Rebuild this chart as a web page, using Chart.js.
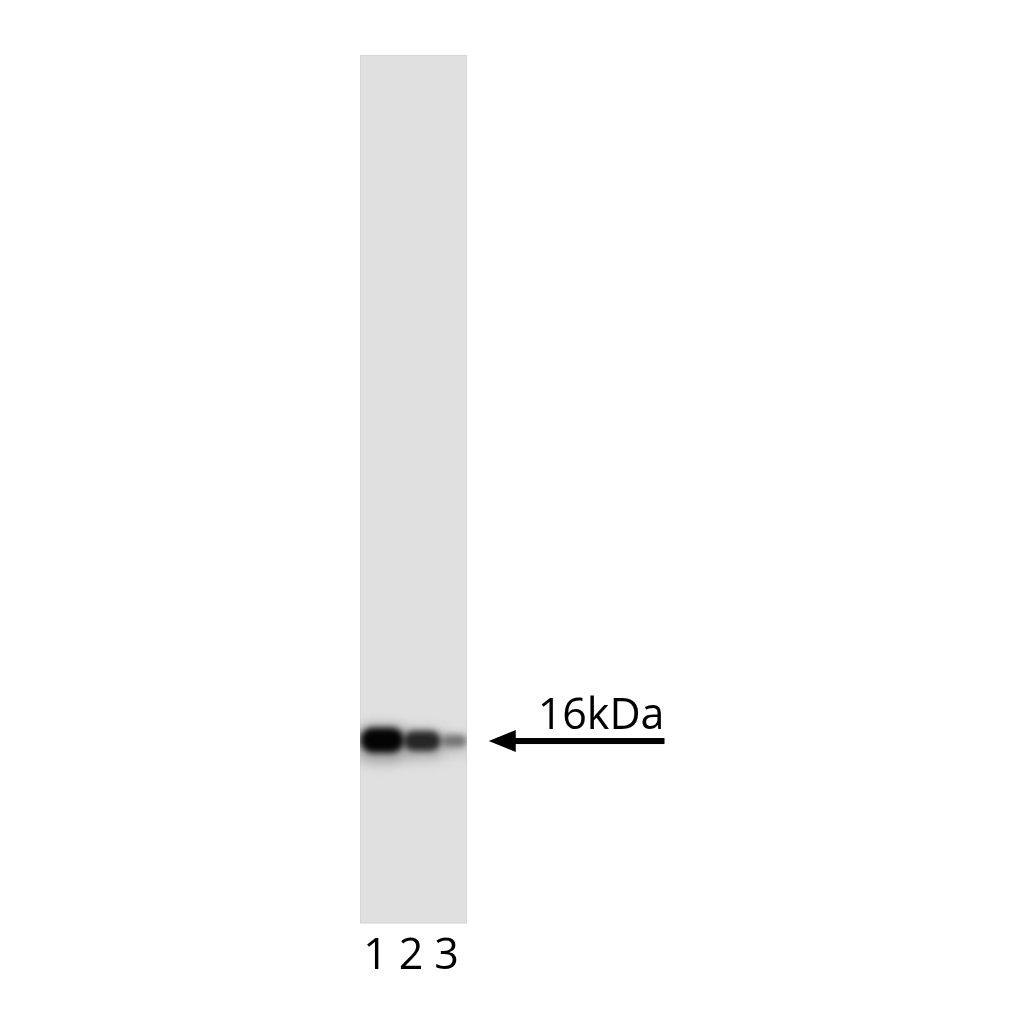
<!DOCTYPE html>
<html lang="en">
  <head>
    <meta charset="UTF-8" />
    <title>Western blot 16kDa</title>
    <style>
      body {
        margin: 0;
        background: #fff;
      }
      #blot {
        display: block;
      }
    </style>
  </head>
  <body>
    <canvas id="blot" width="1024" height="1024"></canvas>
    <script src="https://cdn.jsdelivr.net/npm/chart.js@4"></script>
    <script>
      // lanes, x axis is in lane units
      const laneLabels = [1, 2, 3];
      const bandStart = [0.93, 2.07, 3.03];
      const bandEnd = [1.45, 2.56, 3.4];
      // migration down the gel, in percent
      const bandPos = [78.9, 79.0, 79.0];
      const bandColors = ["#040404", "#262626", "#747474"];
      const bandWidths = [25, 20, 12];
      const smearColors = ["#a8a8a8", "#b4b4b4", "#c8c8c8"];
      const smearWidths = [40, 32, 22];

      const arrowTip = 4.19;
      const arrowTail = 9.14;
      const arrowPos = 79.0;
      const arrowLabel = "16kDa";

      const FONT = "'Open Sans'";

      const datasets = [];
      laneLabels.forEach((lane, i) => {
        const pts = [
          { x: bandStart[i], y: bandPos[i] + 0.4 },
          { x: bandEnd[i], y: bandPos[i] + 0.4 },
        ];
        datasets.push({
          data: pts,
          borderColor: smearColors[i],
          borderWidth: smearWidths[i],
          borderCapStyle: "round",
          pointRadius: 0,
          blur: 6,
          order: 2,
        });
        datasets.push({
          data: [
            { x: bandStart[i], y: bandPos[i] },
            { x: bandEnd[i], y: bandPos[i] },
          ],
          borderColor: bandColors[i],
          borderWidth: bandWidths[i],
          borderCapStyle: "round",
          pointRadius: 0,
          blur: 3,
          order: 1,
        });
      });

      const gelBack = {
        id: "gelBack",
        beforeDraw(chart) {
          const { ctx, chartArea: a } = chart;
          ctx.save();
          ctx.fillStyle = "#e0e0e0";
          ctx.fillRect(a.left, a.top, a.right - a.left, a.bottom - a.top);
          ctx.strokeStyle = "#d6d6d6";
          ctx.lineWidth = 1;
          ctx.strokeRect(a.left + 0.5, a.top + 0.5, a.right - a.left - 1, a.bottom - a.top - 1);
          ctx.restore();
        },
      };

      const bandBlur = {
        id: "bandBlur",
        beforeDatasetDraw(chart, args) {
          chart.ctx.save();
          chart.ctx.filter = "blur(" + args.meta.controller.getDataset().blur + "px)";
        },
        afterDatasetDraw(chart) {
          chart.ctx.restore();
        },
      };

      const marker = {
        id: "marker",
        afterDraw(chart) {
          const { ctx, scales } = chart;
          const tip = scales.x.getPixelForValue(arrowTip);
          const tail = scales.x.getPixelForValue(arrowTail);
          const y = scales.y.getPixelForValue(arrowPos);
          ctx.save();
          ctx.fillStyle = "#000";
          ctx.fillRect(tip + 20, y - 3, tail - tip - 20, 6);
          ctx.beginPath();
          ctx.moveTo(tip, y);
          ctx.lineTo(tip + 27, y - 11);
          ctx.lineTo(tip + 27, y + 11);
          ctx.closePath();
          ctx.fill();
          ctx.font = "43px " + FONT;
          ctx.textAlign = "right";
          ctx.textBaseline = "alphabetic";
          ctx.fillText(arrowLabel, tail, y - 12);
          ctx.restore();
        },
      };

      new Chart(document.getElementById("blot"), {
        type: "scatter",
        data: { datasets: datasets },
        plugins: [gelBack, bandBlur, marker],
        options: {
          responsive: false,
          animation: false,
          showLine: true,
          layout: { padding: { left: 360, right: 557, top: 55, bottom: 41 } },
          plugins: { legend: { display: false }, tooltip: { enabled: false } },
          scales: {
            x: {
              type: "linear",
              min: 0.563,
              max: 3.577,
              grid: { display: false },
              border: { display: false },
              afterBuildTicks(scale) {
                scale.ticks = laneLabels.map((v) => ({ value: v }));
              },
              ticks: {
                autoSkip: false,
                maxRotation: 0,
                padding: 0,
                color: "#000",
                font: { family: FONT, size: 43 },
              },
            },
            y: {
              display: false,
              reverse: true,
              min: 0,
              max: 100,
            },
          },
        },
      });
    </script>
  </body>
</html>
